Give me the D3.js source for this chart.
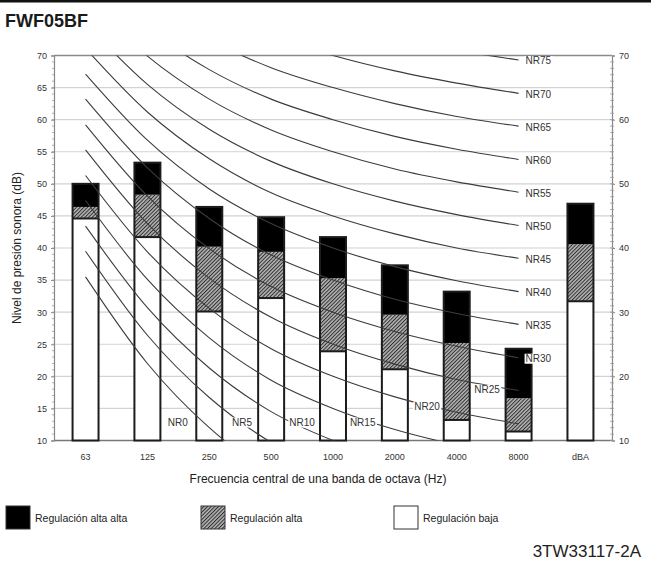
<!DOCTYPE html>
<html>
<head>
<meta charset="utf-8">
<script src="https://cdn.jsdelivr.net/npm/d3@7/dist/d3.min.js"></script>
<style>
  html, body { margin: 0; padding: 0; background: #fff; }
  svg { display: block; font-family: "Liberation Sans", Arial, Helvetica, sans-serif; }
</style>
</head>
<body>
<svg id="chart" width="651" height="562"></svg>
<script>
// Octave-band categories and the three fan settings (top of each stacked band, dB)
const categories = ["63", "125", "250", "500", "1000", "2000", "4000", "8000", "dBA"];
const regulacionBaja = [44.6, 41.7, 30.1, 32.2, 23.9, 21.1, 13.2, 11.4, 31.7];
const regulacionAlta = [46.4, 48.3, 40.2, 39.4, 35.3, 29.6, 25.2, 16.6, 40.6];
const regulacionAltaAlta = [50.0, 53.3, 46.4, 44.8, 41.7, 37.3, 33.2, 24.3, 46.9];

// Noise Rating curves, 63 Hz … 8000 Hz (dB)
const nrBands = ["63", "125", "250", "500", "1000", "2000", "4000", "8000"];
const nrLevels = [0, 5, 10, 15, 20, 25, 30, 35, 40, 45, 50, 55, 60, 65, 70, 75];
const nrValues = [
  [35.5, 22.0, 12.0, 4.8, 0.0, -3.5, -6.1, -8.0],
  [39.5, 26.4, 16.7, 9.7, 5.0, 1.6, -1.0, -2.9],
  [43.4, 30.7, 21.3, 14.5, 10.0, 6.7, 4.2, 2.3],
  [47.4, 35.1, 26.0, 19.4, 15.0, 11.7, 9.3, 7.5],
  [51.3, 39.4, 30.6, 24.3, 20.0, 16.8, 14.4, 12.6],
  [55.3, 43.8, 35.3, 29.2, 25.0, 21.9, 19.5, 17.8],
  [59.2, 48.1, 39.9, 34.0, 30.0, 27.0, 24.7, 22.9],
  [63.2, 52.5, 44.6, 38.9, 35.0, 32.0, 29.8, 28.1],
  [67.1, 56.8, 49.2, 43.8, 40.0, 37.1, 34.9, 33.2],
  [71.1, 61.2, 53.9, 48.6, 45.0, 42.2, 40.0, 38.4],
  [75.0, 65.5, 58.5, 53.5, 50.0, 47.3, 45.2, 43.5],
  [79.0, 69.9, 63.2, 58.4, 55.0, 52.3, 50.3, 48.7],
  [82.9, 74.2, 67.8, 63.2, 60.0, 57.4, 55.4, 53.8],
  [86.9, 78.6, 72.5, 68.1, 65.0, 62.5, 60.5, 59.0],
  [90.8, 82.9, 77.1, 73.0, 70.0, 67.6, 65.7, 64.1],
  [94.8, 87.3, 81.8, 77.9, 75.0, 72.6, 70.8, 69.3]
];

// Axis ticks
const leftTicks = [10, 15, 20, 25, 30, 35, 40, 45, 50, 55, 60, 65, 70];
const rightTicks = [10, 20, 30, 40, 50, 60, 70];

// Text
const titleText = "FWF05BF";
const yTitle = "Nivel de presión sonora (dB)";
const xTitle = "Frecuencia central de una banda de octava (Hz)";
const legendLabels = ["Regulación alta alta", "Regulación alta", "Regulación baja"];
const docCode = "3TW33117-2A";

// ---------- layout ----------
const svg = d3.select("#chart");
const plot = { left: 54, right: 612, top: 55.5, bottom: 440.5 };

const x = d3.scaleBand()
  .domain(categories)
  .range([plot.left, plot.right])
  .paddingInner(0.58)
  .paddingOuter(0.3);
const bw = x.bandwidth();
const cx = c => x(c) + bw / 2;

const y = d3.scaleLinear().domain([10, 70]).range([plot.bottom, plot.top]);

// hatch pattern for the middle setting
const defs = svg.append("defs");
const pat = defs.append("pattern")
  .attr("id", "hatch")
  .attr("patternUnits", "userSpaceOnUse")
  .attr("width", 2.6).attr("height", 2.6)
  .attr("patternTransform", "rotate(45)");
pat.append("rect").attr("width", 2.6).attr("height", 2.6).attr("fill", "#b4b4b4");
pat.append("line").attr("x1", 0.5).attr("y1", 0).attr("x2", 0.5).attr("y2", 2.6)
  .attr("stroke", "#2e2e2e").attr("stroke-width", 1);

defs.append("clipPath").attr("id", "plotClip")
  .append("rect")
  .attr("x", plot.left).attr("y", plot.top)
  .attr("width", plot.right - plot.left).attr("height", plot.bottom - plot.top);

// top rule
svg.append("rect").attr("x", 0).attr("y", 0).attr("width", 651).attr("height", 2.5).attr("fill", "#111");

// title
svg.append("text")
  .attr("x", 5).attr("y", 27)
  .attr("font-size", 18).attr("font-weight", "bold").attr("fill", "#1a1a1a")
  .text(titleText);

// horizontal gridlines
svg.append("g").selectAll("line")
  .data(leftTicks.filter(t => t > 10 && t < 70))
  .join("line")
  .attr("x1", plot.left).attr("x2", plot.right)
  .attr("y1", d => y(d)).attr("y2", d => y(d))
  .attr("stroke", "#d2d2d2").attr("stroke-width", 1.2);

// frame lines: top (70) and bottom (10)
svg.append("line").attr("x1", plot.left).attr("x2", plot.right)
  .attr("y1", y(70)).attr("y2", y(70)).attr("stroke", "#8a8a8a").attr("stroke-width", 1.4);
svg.append("line").attr("x1", plot.left).attr("x2", plot.right)
  .attr("y1", y(10)).attr("y2", y(10)).attr("stroke", "#777").attr("stroke-width", 1.4);

// left axis
const leftAxis = d3.axisLeft(y).tickValues(leftTicks).tickSize(3).tickPadding(4);
const gl = svg.append("g").attr("transform", `translate(${plot.left},0)`).call(leftAxis);
gl.select(".domain").attr("stroke", "#888").attr("stroke-width", 1.2);
gl.selectAll(".tick line").attr("stroke", "#888");
gl.selectAll(".tick text").attr("font-size", 9).attr("fill", "#333")
  .attr("font-family", "Liberation Sans, Arial, sans-serif");
// minor ticks every dB
const minor = d3.range(10, 71, 1);
svg.append("g").selectAll("line").data(minor).join("line")
  .attr("x1", plot.left - 2).attr("x2", plot.left)
  .attr("y1", d => y(d)).attr("y2", d => y(d))
  .attr("stroke", "#999").attr("stroke-width", 0.8);

// right axis
const rightAxis = d3.axisRight(y).tickValues(rightTicks).tickSize(3).tickPadding(4);
const gr = svg.append("g").attr("transform", `translate(${plot.right},0)`).call(rightAxis);
gr.select(".domain").attr("stroke", "#888").attr("stroke-width", 1.2);
gr.selectAll(".tick line").attr("stroke", "#888");
gr.selectAll(".tick text").attr("font-size", 9).attr("fill", "#333")
  .attr("font-family", "Liberation Sans, Arial, sans-serif");
svg.append("g").selectAll("line").data(minor).join("line")
  .attr("x1", plot.right - 2).attr("x2", plot.right + 2)
  .attr("y1", d => y(d)).attr("y2", d => y(d))
  .attr("stroke", "#999").attr("stroke-width", 0.8);

// bottom category labels
const bottomAxis = d3.axisBottom(x).tickSize(0).tickPadding(13);
const gb = svg.append("g").attr("transform", `translate(0,${plot.bottom})`).call(bottomAxis);
gb.select(".domain").remove();
gb.selectAll(".tick text").attr("font-size", 9).attr("fill", "#333")
  .attr("font-family", "Liberation Sans, Arial, sans-serif");

// stacked bars
const bars = svg.append("g");
categories.forEach((c, i) => {
  const segs = [
    { lo: 10, hi: regulacionBaja[i], fill: "#fff" },
    { lo: regulacionBaja[i], hi: regulacionAlta[i], fill: "url(#hatch)" },
    { lo: regulacionAlta[i], hi: regulacionAltaAlta[i], fill: "#000" }
  ];
  bars.append("g").selectAll("rect").data(segs).join("rect")
    .attr("x", x(c)).attr("width", bw)
    .attr("y", d => y(d.hi)).attr("height", d => y(d.lo) - y(d.hi))
    .attr("fill", d => d.fill);
  // outline and white/hatch divider
  bars.append("rect")
    .attr("x", x(c)).attr("width", bw)
    .attr("y", y(regulacionAltaAlta[i])).attr("height", y(10) - y(regulacionAltaAlta[i]))
    .attr("fill", "none").attr("stroke", "#1c1c1c").attr("stroke-width", 2);
  bars.append("line")
    .attr("x1", x(c)).attr("x2", x(c) + bw)
    .attr("y1", y(regulacionBaja[i])).attr("y2", y(regulacionBaja[i]))
    .attr("stroke", "#1c1c1c").attr("stroke-width", 2);
});

// NR curves
const line = d3.line()
  .x((d, j) => cx(nrBands[j]))
  .y(d => y(d))
  .curve(d3.curveMonotoneX);
svg.append("g").attr("clip-path", "url(#plotClip)")
  .selectAll("path").data(nrValues).join("path")
  .attr("d", line)
  .attr("fill", "none").attr("stroke", "#3c3c3c").attr("stroke-width", 1.1);

// NR labels: low curves sit between bars, high curves at the 8000 Hz end
const lowLabelSpots = {
  0: [1.49, 12.8], 5: [2.53, 12.8], 10: [3.5, 12.8],
  15: [4.48, 12.8], 20: [5.52, 15.3], 25: [6.49, 17.9]
};
const step = x.step();
const labelG = svg.append("g");
nrLevels.forEach((nr, k) => {
  let lx, ly, anchor;
  if (lowLabelSpots[nr]) {
    lx = cx(categories[0]) + lowLabelSpots[nr][0] * step;
    ly = y(lowLabelSpots[nr][1]);
    anchor = "middle";
  } else {
    lx = cx("8000") + 7;
    ly = y(nrValues[k][7]) + 1;
    anchor = "start";
  }
  const g = labelG.append("g");
  const t = g.append("text")
    .attr("x", lx).attr("y", ly)
    .attr("dy", "0.35em")
    .attr("text-anchor", anchor)
    .attr("font-size", 10).attr("fill", "#333")
    .text("NR" + nr);
  const bb = t.node().getBBox();
  g.insert("rect", "text")
    .attr("x", bb.x - 1).attr("y", bb.y + 0.5)
    .attr("width", bb.width + 2).attr("height", bb.height - 1)
    .attr("fill", "#fff");
});

// axis titles
svg.append("text")
  .attr("transform", `translate(17,${(plot.top + plot.bottom) / 2}) rotate(-90)`)
  .attr("text-anchor", "middle").attr("dy", "0.35em")
  .attr("font-size", 12).attr("fill", "#222")
  .text(yTitle);
svg.append("text")
  .attr("x", 318).attr("y", 479).attr("dy", "0.35em")
  .attr("text-anchor", "middle")
  .attr("font-size", 12).attr("fill", "#222")
  .text(xTitle);

// legend
const legendFills = ["#000", "url(#hatch)", "#fff"];
const legendX = [6, 201, 394];
legendLabels.forEach((lab, i) => {
  svg.append("rect")
    .attr("x", legendX[i]).attr("y", 506).attr("width", 24).attr("height", 23)
    .attr("fill", legendFills[i]).attr("stroke", "#333").attr("stroke-width", 1);
  svg.append("text")
    .attr("x", legendX[i] + 29).attr("y", 518).attr("dy", "0.35em")
    .attr("font-size", 10.5).attr("fill", "#222")
    .text(lab);
});

// document code
svg.append("text")
  .attr("x", 641).attr("y", 557)
  .attr("text-anchor", "end")
  .attr("font-size", 17).attr("fill", "#222")
  .text(docCode);
</script>
</body>
</html>
